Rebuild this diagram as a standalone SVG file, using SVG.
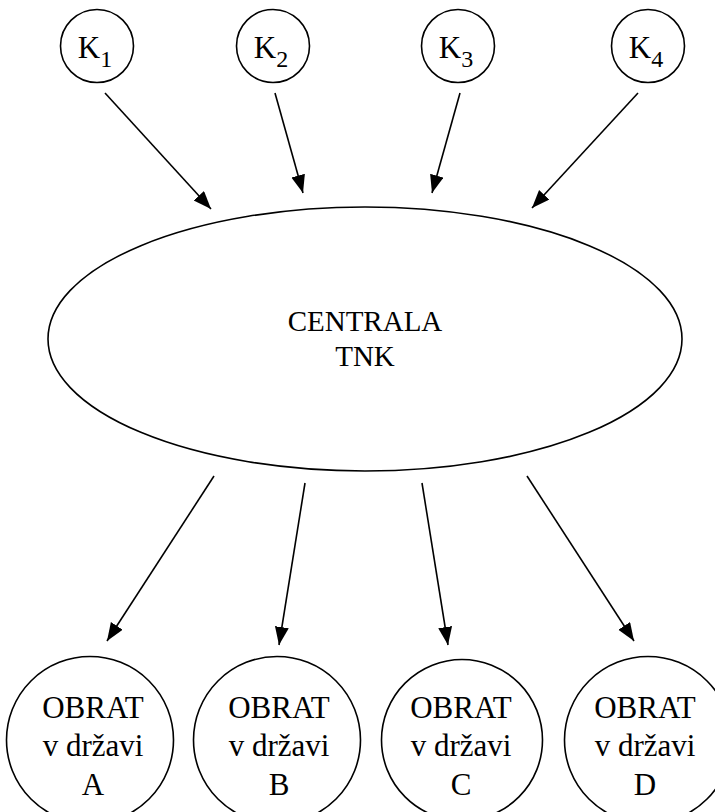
<svg xmlns="http://www.w3.org/2000/svg" width="715" height="812" viewBox="0 0 715 812">
<defs>
<style>
.shape{fill:#fff;stroke:#000;stroke-width:1.6}
.t{font-family:"Liberation Serif","Times New Roman",serif;fill:#000;text-anchor:middle}
.k{font-size:31px}
.big{font-size:31px}
.c{font-size:29px}
.edge{stroke:#000;stroke-width:1.6;fill:none;marker-end:url(#ah)}
</style>
<marker id="ah" markerUnits="userSpaceOnUse" markerWidth="19" markerHeight="15" refX="18" refY="7" orient="auto">
<path d="M0,0 L18,7 L0,14 z" fill="#000"/>
</marker>
</defs>
<rect width="715" height="812" fill="#fff"/>
<g id="k1"><circle class="shape" cx="97" cy="46" r="36.5"/><text class="t k" x="95" y="58">K<tspan font-size="24" dy="9">1</tspan></text></g>
<g id="k2"><circle class="shape" cx="273" cy="46" r="36.5"/><text class="t k" x="271" y="58">K<tspan font-size="24" dy="9">2</tspan></text></g>
<g id="k3"><circle class="shape" cx="458" cy="46" r="36.5"/><text class="t k" x="456" y="58">K<tspan font-size="24" dy="9">3</tspan></text></g>
<g id="k4"><circle class="shape" cx="648" cy="46" r="36.5"/><text class="t k" x="646" y="58">K<tspan font-size="24" dy="9">4</tspan></text></g>
<g id="centrala"><ellipse class="shape" cx="365" cy="339" rx="317" ry="132"/><text class="t c" x="365" y="331">CENTRALA</text><text class="t c" x="365" y="366">TNK</text></g>
<g id="a"><circle class="shape" cx="90" cy="740" r="83.5"/><text class="t big" x="93" y="718">OBRAT</text><text class="t big" x="93" y="756">v državi</text><text class="t big" x="93" y="795">A</text></g>
<g id="b"><circle class="shape" cx="277" cy="740" r="83.5"/><text class="t big" x="279" y="718">OBRAT</text><text class="t big" x="279" y="756">v državi</text><text class="t big" x="279" y="795">B</text></g>
<g id="c"><circle class="shape" cx="462" cy="740" r="80.5"/><text class="t big" x="461" y="718">OBRAT</text><text class="t big" x="461" y="756">v državi</text><text class="t big" x="461" y="795">C</text></g>
<g id="d"><circle class="shape" cx="648" cy="740" r="83.5"/><text class="t big" x="645" y="718">OBRAT</text><text class="t big" x="645" y="756">v državi</text><text class="t big" x="645" y="795">D</text></g>
<g id="connectors">
<line class="edge" x1="105" y1="93" x2="211" y2="209"/>
<line class="edge" x1="275" y1="93" x2="303" y2="193"/>
<line class="edge" x1="460" y1="93" x2="432" y2="193"/>
<line class="edge" x1="638" y1="93" x2="532" y2="208"/>
<line class="edge" x1="214" y1="476" x2="107" y2="641"/>
<line class="edge" x1="305" y1="483" x2="279" y2="645"/>
<line class="edge" x1="422" y1="483" x2="448" y2="645"/>
<line class="edge" x1="527" y1="476" x2="634" y2="641"/>
</g>
</svg>
